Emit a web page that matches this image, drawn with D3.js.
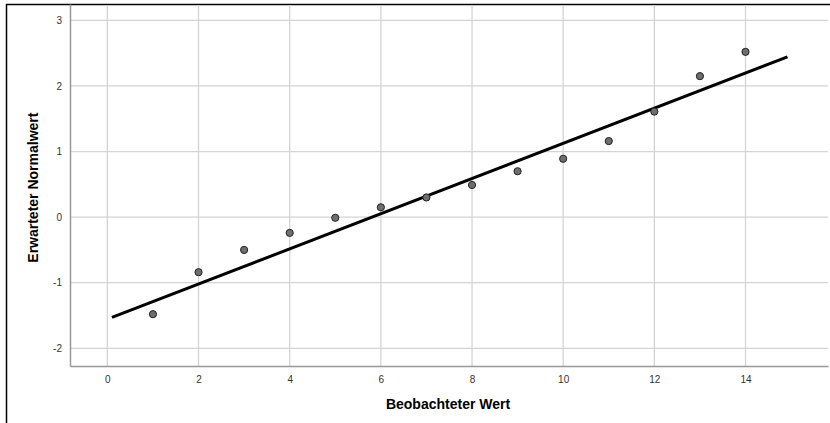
<!DOCTYPE html>
<html>
<head>
<meta charset="utf-8">
<script src="https://cdn.jsdelivr.net/npm/d3@7"></script>
<style>
body { margin:0; background:#fff; }
.tick text { font-family: Arial, "Liberation Sans", sans-serif; font-size:10px; fill:#333; }
</style>
</head>
<body>
<div class="chart"></div>
<script>
// observed values (x) and expected normal values (y)
var observed = [1,2,3,4,5,6,7,8,9,10,11,12,13,14];
var expected = [-1.48,-0.84,-0.50,-0.24,-0.01,0.15,0.30,0.49,0.70,0.89,1.16,1.61,2.15,2.52];
var lineX = [0.1, 14.92];
var lineY = [-1.53, 2.445];
var xTicks = [0,2,4,6,8,10,12,14];
var yTicks = [-2,-1,0,1,2,3];

var W = 830, H = 423;
var pLeft = 70, pRight = 828, pTop = 4, pBottom = 366;

var svg = d3.select(".chart").append("svg")
  .attr("width", W).attr("height", H);

// outer frame
svg.append("line").attr("x1",6.5).attr("x2",6.5).attr("y1",4).attr("y2",H)
  .attr("stroke","#000").attr("stroke-width",1.5);
svg.append("line").attr("x1",6).attr("x2",W).attr("y1",4.5).attr("y2",4.5)
  .attr("stroke","#000").attr("stroke-width",1.5);

var xScale = d3.scaleLinear().domain([-0.82, 15.81]).range([pLeft, pRight]);
var yScale = d3.scaleLinear().domain([-2.27, 3.25]).range([pBottom, pTop]);

// grid
svg.append("g").selectAll("line").data(xTicks).enter().append("line")
  .attr("x1",d=>xScale(d)).attr("x2",d=>xScale(d))
  .attr("y1",pTop+1).attr("y2",pBottom)
  .attr("stroke","#d4d4d4").attr("stroke-width",1.3);
svg.append("g").selectAll("line").data(yTicks).enter().append("line")
  .attr("x1",pLeft).attr("x2",pRight)
  .attr("y1",d=>yScale(d)).attr("y2",d=>yScale(d))
  .attr("stroke","#d4d4d4").attr("stroke-width",1.3);

var xAxis = d3.axisBottom(xScale).tickValues(xTicks).tickSize(0).tickPadding(10)
  .tickFormat(d=>String(d));
var yAxis = d3.axisLeft(yScale).tickValues(yTicks).tickSize(0).tickPadding(8)
  .tickFormat(d=>String(d));

var gx = svg.append("g").attr("transform","translate(0,"+pBottom+")").call(xAxis);
gx.select(".domain").attr("stroke","#999").attr("stroke-width",1.5);
var gy = svg.append("g").attr("transform","translate("+pLeft+",0)").call(yAxis);
gy.select(".domain").attr("stroke","#999").attr("stroke-width",1.5);

// reference line
svg.append("line")
  .attr("x1",xScale(lineX[0])).attr("y1",yScale(lineY[0]))
  .attr("x2",xScale(lineX[1])).attr("y2",yScale(lineY[1]))
  .attr("stroke","#000").attr("stroke-width",3);

// points
svg.append("g").selectAll("circle").data(observed).enter().append("circle")
  .attr("cx",(d)=>xScale(d))
  .attr("cy",(d,i)=>yScale(expected[i]))
  .attr("r",3.6)
  .attr("fill","#6e6e6e").attr("stroke","#222").attr("stroke-width",1);

svg.append("text")
  .attr("transform","translate(38,"+(yScale(0.45))+") rotate(-90)")
  .attr("text-anchor","middle")
  .style("font-family","Arial, 'Liberation Sans', sans-serif")
  .style("font-size","14px").style("font-weight","bold")
  .text("Erwarteter Normalwert");

svg.append("text")
  .attr("x",448).attr("y",409)
  .attr("text-anchor","middle")
  .style("font-family","Arial, 'Liberation Sans', sans-serif")
  .style("font-size","14px").style("font-weight","bold")
  .text("Beobachteter Wert");
</script>
</body>
</html>
